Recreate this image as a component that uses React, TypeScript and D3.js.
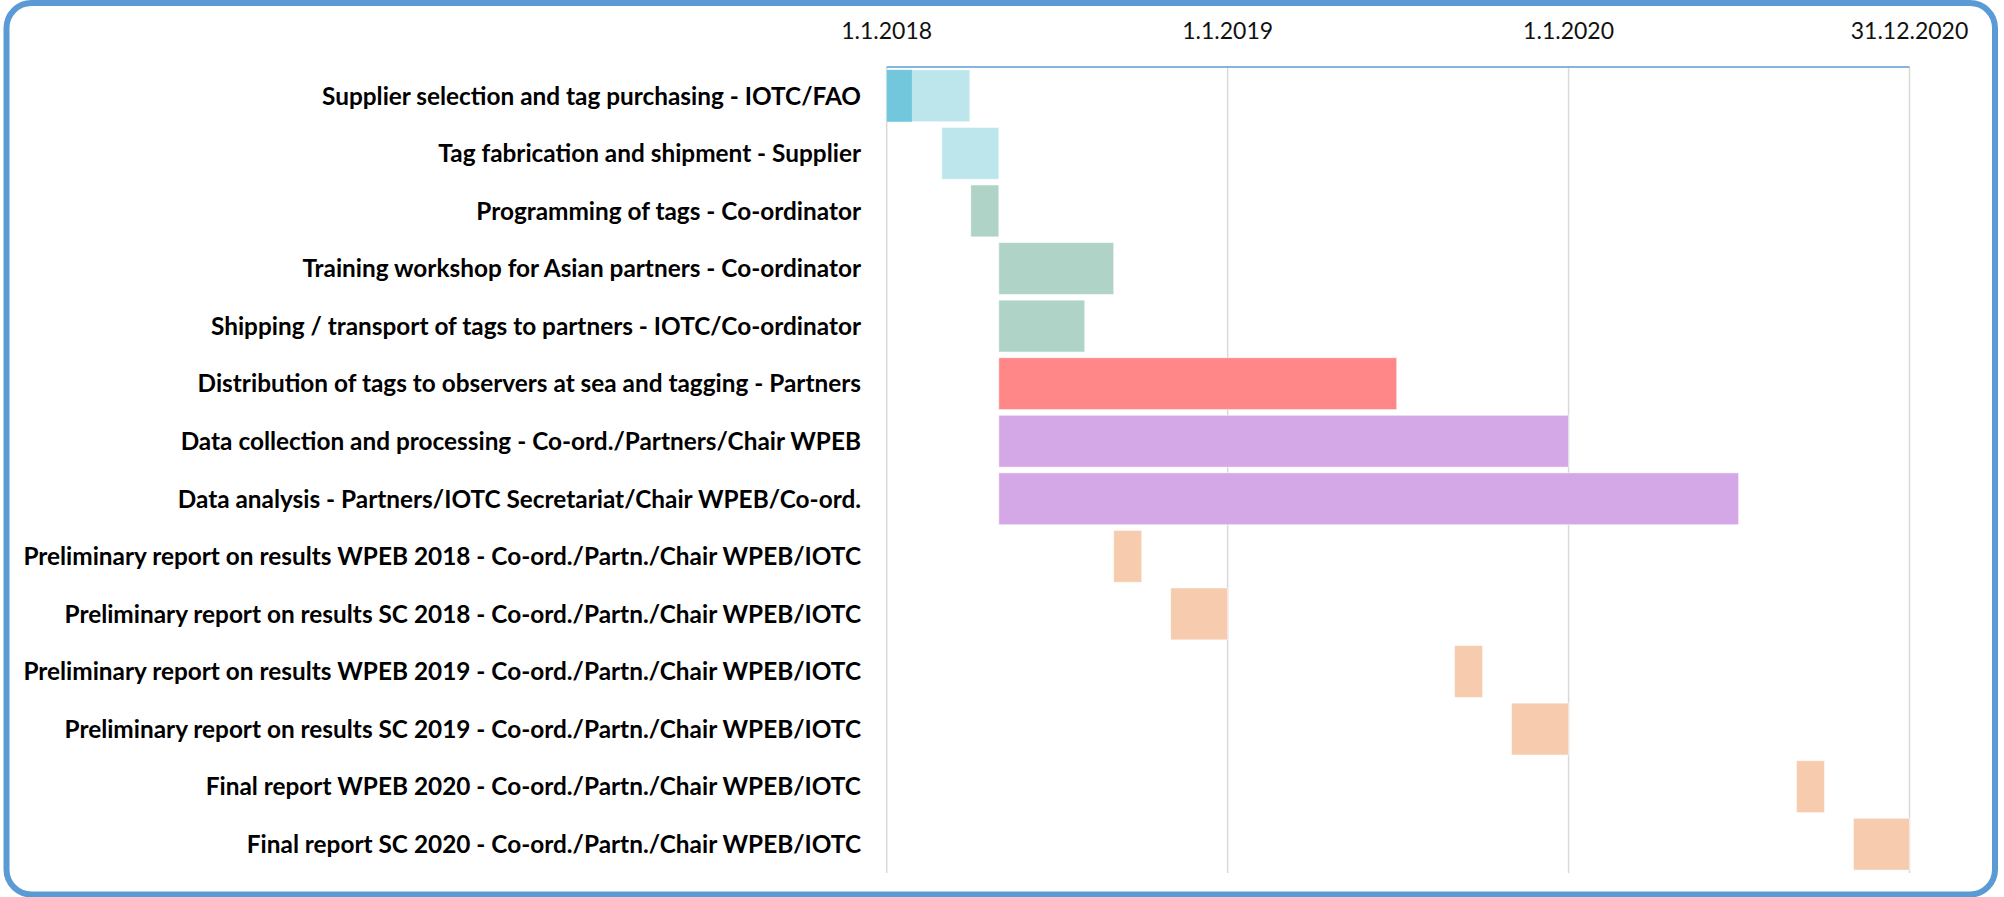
import * as d3 from "d3";

// Gantt rows, top to bottom
const tasks = [
  "Supplier selection and tag purchasing - IOTC/FAO",
  "Tag fabrication and shipment - Supplier",
  "Programming of tags - Co-ordinator",
  "Training workshop for Asian partners - Co-ordinator",
  "Shipping / transport of tags to partners - IOTC/Co-ordinator",
  "Distribution of tags to observers at sea and tagging - Partners",
  "Data collection and processing - Co-ord./Partners/Chair WPEB",
  "Data analysis - Partners/IOTC Secretariat/Chair WPEB/Co-ord.",
  "Preliminary report on results WPEB 2018 - Co-ord./Partn./Chair WPEB/IOTC",
  "Preliminary report on results SC 2018 - Co-ord./Partn./Chair WPEB/IOTC",
  "Preliminary report on results WPEB 2019 - Co-ord./Partn./Chair WPEB/IOTC",
  "Preliminary report on results SC 2019 - Co-ord./Partn./Chair WPEB/IOTC",
  "Final report WPEB 2020 - Co-ord./Partn./Chair WPEB/IOTC",
  "Final report SC 2020 - Co-ord./Partn./Chair WPEB/IOTC",
];

const startDates = [
  "2018-01-01", "2018-03-01", "2018-04-01", "2018-05-01", "2018-05-01",
  "2018-05-01", "2018-05-01", "2018-05-01", "2018-09-01", "2018-11-01",
  "2019-09-01", "2019-11-01", "2020-09-01", "2020-11-01",
];

const endDates = [
  "2018-03-31", "2018-05-01", "2018-05-01", "2018-09-01", "2018-08-01",
  "2019-07-01", "2020-01-01", "2020-07-01", "2018-10-01", "2019-01-01",
  "2019-10-01", "2020-01-01", "2020-10-01", "2020-12-31",
];

// completed part (only the first task has one)
const doneDates = ["2018-01-28", null, null, null, null, null, null, null, null, null, null, null, null, null];

const groups = ["order", "order", "prep", "prep", "prep", "field", "analysis", "analysis",
  "report", "report", "report", "report", "report", "report"];

const tickDates = ["2018-01-01", "2019-01-01", "2020-01-01", "2020-12-31"];

const groupColors: Record<string, string> = {
  order: "#BCE6EC",
  prep: "#AFD3C7",
  field: "#FF8787",
  analysis: "#D4A8E6",
  report: "#F7CBAD",
};
const doneColor = "#72C7DD";

const W = 2004;
const H = 897;

export default function App() {
  const parse = d3.utcParse("%Y-%m-%d");
  const fmt = d3.utcFormat("%-d.%-m.%Y");
  const ticks = tickDates.map((d) => parse(d)!);

  const x = d3
    .scaleUtc()
    .domain([ticks[0], ticks[ticks.length - 1]])
    .range([886.7, 1909.5]);

  const y = d3
    .scaleBand()
    .domain(tasks)
    .range([67, 873])
    .paddingInner(0.1)
    .paddingOuter(0.05);

  const labelScale = 0.975;

  return (
    <svg
      width={W}
      height={H}
      style={{ position: "absolute", left: 0, top: 0, display: "block" }}
    >
      <rect x={0} y={0} width={W} height={H} fill="#fff" />

      {/* grid */}
      {ticks.map((t, i) => (
        <line
          key={"g" + i}
          x1={x(t)}
          x2={x(t)}
          y1={y.range()[0]}
          y2={y.range()[1]}
          stroke="#D9D9D9"
          strokeWidth={1.5}
        />
      ))}
      <line
        x1={x.range()[0]}
        x2={x.range()[1]}
        y1={y.range()[0]}
        y2={y.range()[0]}
        stroke="#5B9BD5"
        strokeWidth={1.5}
      />

      {/* tick labels */}
      {ticks.map((t, i) => (
        <text
          key={"t" + i}
          x={x(t)}
          y={39}
          textAnchor="middle"
          fontFamily="Lato, 'Open Sans', sans-serif"
          fontSize={23}
          fill="#111"
        >
          {fmt(t)}
        </text>
      ))}

      {/* bars */}
      {tasks.map((name, i) => {
        const s = parse(startDates[i])!;
        const e = parse(endDates[i])!;
        const done = doneDates[i] ? parse(doneDates[i]!)! : null;
        return (
          <g key={"b" + i}>
            <rect
              x={x(s)}
              y={y(name)}
              width={x(e) - x(s)}
              height={y.bandwidth()}
              fill={groupColors[groups[i]]}
              stroke="#fff"
              strokeOpacity={0.5}
              strokeWidth={1}
            />
            {done && (
              <rect
                x={x(s)}
                y={y(name)}
                width={x(done) - x(s)}
                height={y.bandwidth()}
                fill={doneColor}
              />
            )}
          </g>
        );
      })}

      {/* row labels */}
      {tasks.map((name) => (
        <g
          key={"l" + name}
          transform={`translate(861,${y(name)! + y.bandwidth() / 2}) scale(${labelScale},1)`}
        >
          <text
            x={0}
            y={0}
            dy="0.35em"
            textAnchor="end"
            fontFamily="Lato, 'Open Sans', sans-serif"
            fontWeight="bold"
            fontSize={25}
            fill="#000"
          >
            {name}
          </text>
        </g>
      ))}

      {/* frame */}
      <rect
        x={6.5}
        y={3}
        width={1988.5}
        height={891.5}
        rx={25}
        ry={25}
        fill="none"
        stroke="#5B9BD5"
        strokeWidth={6}
      />
    </svg>
  );
}
